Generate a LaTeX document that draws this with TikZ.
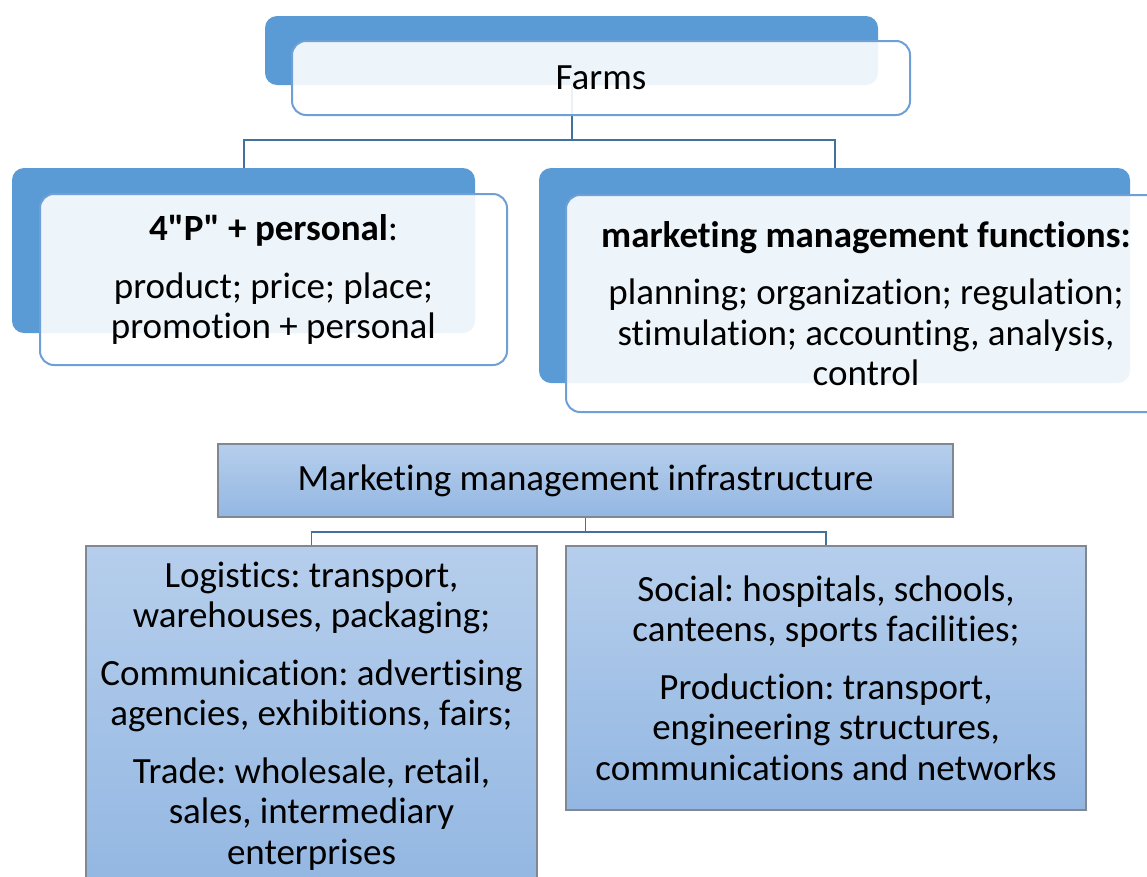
\documentclass[tikz,border=0pt]{standalone}
\usepackage{fontspec}
\setmainfont{Carlito}[Ligatures={CommonOff,TeXOff}]
\frenchspacing
\definecolor{accent}{RGB}{91,155,213}
\definecolor{edgeblue}{RGB}{110,160,215}
\definecolor{linkblue}{RGB}{65,113,156}
\definecolor{gradtop}{RGB}{182,206,236}
\definecolor{gradbot}{RGB}{147,183,226}
\definecolor{frameg}{RGB}{128,136,148}
\begin{document}
\begin{tikzpicture}[x=1pt,y=-1pt,
  font=\fontsize{37}{40.5}\selectfont,
  backbox/.style={fill=accent, rounded corners=12pt, inner sep=0pt},
  frontbox/.style={draw=edgeblue, line width=2pt, fill=white, fill opacity=0.9,
    text opacity=1, rounded corners=14pt, inner sep=0pt, align=center},
  infrabox/.style={draw=frameg, line width=1.5pt, top color=gradtop,
    bottom color=gradbot, inner sep=0pt, align=center},
  link/.style={draw=linkblue, line width=2pt},
  sublink/.style={draw=linkblue, line width=1.6pt}]
\useasboundingbox (0,0) rectangle (1147,876);
\fill[white] (0,0) rectangle (1147,876);

% back plates
\node[backbox, minimum width=613pt, minimum height=69pt] (farmsB) at (571.5,50.5) {};
\node[backbox, minimum width=463pt, minimum height=165pt] (pB) at (243.5,250.5) {};
\node[backbox, minimum width=591pt, minimum height=215pt] (mB) at (834.5,275.5) {};

% tree lines of the upper part
\coordinate (top) at (571.5,140);
\draw[link] (farmsB.south) -- (top);
\draw[link] (pB.north) |- (top) -| (mB.north);

% front cards
\node[frontbox, minimum width=618pt, minimum height=74pt] (farms) at (601,78) {Farms};
\node[frontbox, minimum width=467pt, minimum height=171pt] (pF) at (273.5,279.5)
  {\textbf{4"P" + personal}:\\[17pt]product; price; place;\\promotion + personal};
\node[frontbox, minimum width=600pt, minimum height=217pt] (mF) at (866,303.5)
  {\textbf{marketing management functions:}\\[17pt]planning; organization; regulation;\\stimulation; accounting, analysis,\\control};

% infrastructure part
\node[infrabox, minimum width=735pt, minimum height=73pt] (infra) at (585.5,480.5)
  {Marketing management infrastructure};
\node[infrabox, minimum width=451pt, minimum height=340pt] (logi) at (311.5,716)
  {Logistics: transport,\\warehouses, packaging;\\[17pt]Communication: advertising\\agencies, exhibitions, fairs;\\[17pt]Trade: wholesale, retail,\\sales, intermediary\\enterprises};
\node[infrabox, minimum width=520pt, minimum height=264pt] (social) at (826,678)
  {Social: hospitals, schools,\\canteens, sports facilities;\\[17pt]Production: transport,\\engineering structures,\\communications and networks};

\coordinate (mid) at (585.5,532);
\draw[sublink] (infra.south) -- (mid);
\draw[sublink] (logi.north) |- (mid) -| (social.north);
\end{tikzpicture}
\end{document}
